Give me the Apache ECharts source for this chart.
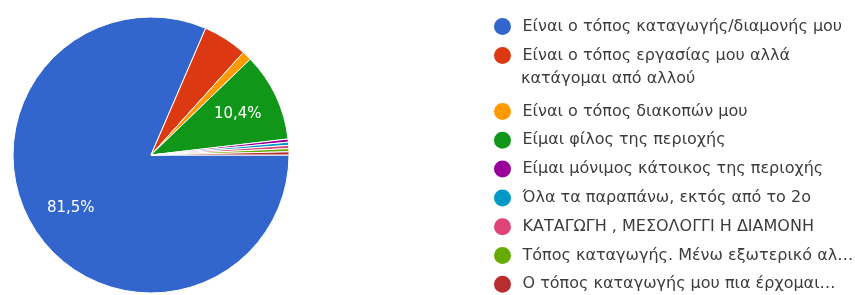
<!DOCTYPE html>
<html>
<head>
<meta charset="utf-8">
<script src="https://cdn.jsdelivr.net/npm/echarts@6/dist/echarts.min.js"></script>
<style>
html,body{margin:0;padding:0;background:#fff;}
#chart{width:855px;height:295px;}
</style>
</head>
<body>
<div id="chart"></div>
<script>
// Categories (legend names) and response counts
const categories = [
  "Είναι ο τόπος καταγωγής/διαμονής μου",
  "Είναι ο τόπος εργασίας μου αλλά\nκατάγομαι από αλλού",
  "Είναι ο τόπος διακοπών μου",
  "Είμαι φίλος της περιοχής",
  "Είμαι μόνιμος κάτοικος της περιοχής",
  "Όλα τα παραπάνω, εκτός από το 2ο",
  "ΚΑΤΑΓΩΓΗ , ΜΕΣΟΛΟΓΓΙ Η ΔΙΑΜΟΝΗ",
  "Τόπος καταγωγής. Μένω εξωτερικό αλ…",
  "Ο τόπος καταγωγής μου πια έρχομαι…"
];
const values = [220, 14, 3, 28, 1, 1, 1, 1, 1];
const colors = ["#3366cc", "#dc3912", "#ff9900", "#109618", "#990099", "#0099c6", "#dd4477", "#66aa00", "#b82e2e"];

const total = values.reduce((a, b) => a + b, 0);
const data = categories.map((n, i) => ({ name: n, value: values[i], itemStyle: { color: colors[i] } }));
const labelData = categories.map((n, i) => ({ name: n, value: values[i] }));
const pct = v => (v / total * 100).toFixed(1).replace('.', ',') + '%';

const font = "'DejaVu Sans', sans-serif";
const legendBase = {
  orient: 'vertical',
  left: 492,
  padding: 0,
  height: 250,
  icon: 'circle',
  itemWidth: 30,
  itemHeight: 19,
  selectedMode: false,
  textStyle: { color: '#3c3c3c', fontSize: 16, fontFamily: font, lineHeight: 20 }
};

const chart = echarts.init(document.getElementById('chart'));
chart.setOption({
  animation: false,
  legend: [
    Object.assign({}, legendBase, {
      top: 16, itemGap: 8,
      data: [categories[0], categories[1]],
      formatter: n => n.split('\n')[0]
    }),
    Object.assign({}, legendBase, {
      left: 486,
      top: 69,
      data: [{ name: categories[1], icon: 'none' }],
      formatter: n => n.split('\n')[1]
    }),
    Object.assign({}, legendBase, {
      top: 101, itemGap: 7.8,
      data: categories.slice(2)
    })
  ],
  series: [
    {
      type: 'pie',
      center: [151, 155],
      radius: [0, 138],
      startAngle: 0,
      clockwise: true,
      avoidLabelOverlap: false,
      label: { show: false },
      labelLine: { show: false },
      itemStyle: { borderColor: '#fff', borderWidth: 1 },
      emphasis: { disabled: true },
      data: data
    },
    {
      type: 'pie',
      center: [151, 155],
      radius: [80, 106],
      startAngle: 0,
      clockwise: true,
      silent: true,
      avoidLabelOverlap: false,
      itemStyle: { color: 'rgba(0,0,0,0)', borderWidth: 0 },
      labelLine: { show: false },
      label: {
        show: true,
        position: 'inside',
        color: '#fff',
        fontSize: 15,
        fontFamily: font,
        formatter: p => (p.value / total >= 0.1 ? pct(p.value) : '')
      },
      emphasis: { disabled: true },
      data: labelData
    }
  ]
});
</script>
</body>
</html>
